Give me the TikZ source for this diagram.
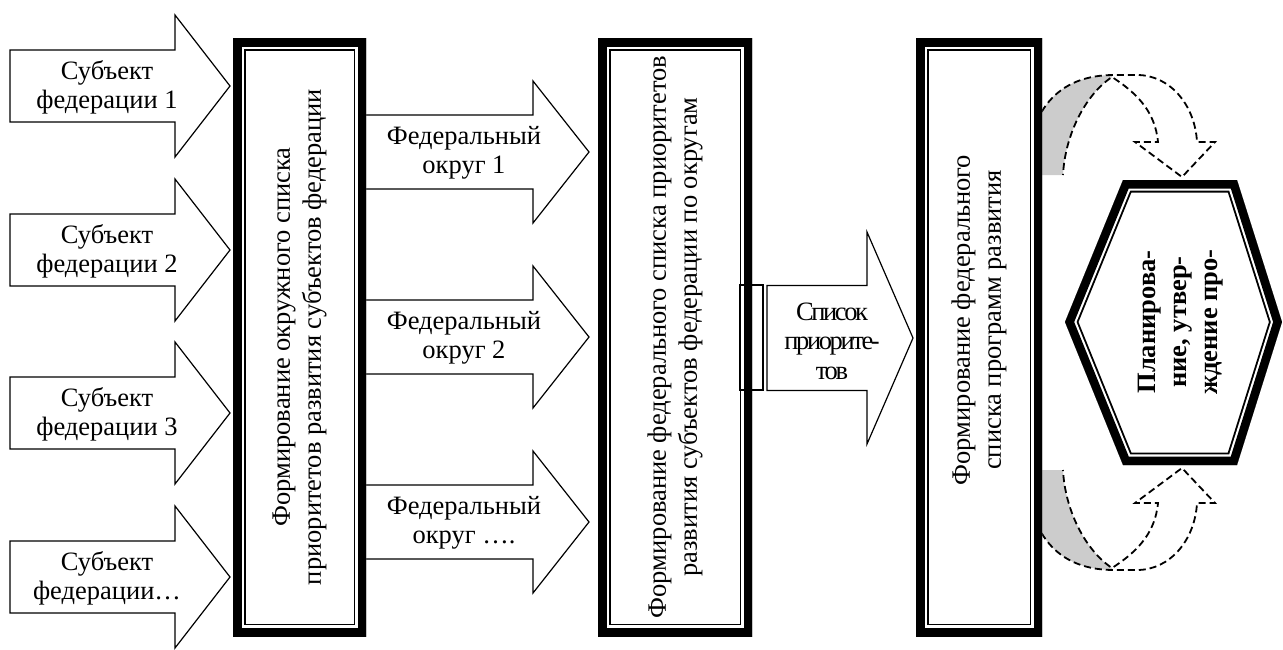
\documentclass[tikz,border=0pt]{standalone}
\usepackage{fontspec}
\setmainfont{Liberation Serif}
\newfontfamily\tightfont[LetterSpace=-9]{Liberation Serif}
\usetikzlibrary{calc}

% outline of the hexagon on the right
\newcommand{\hexpath}{(1065,322) -- (1123,180) -- (1237,180) -- (1282,322) -- (1237,465) -- (1123,465) -- cycle}
% block arrow: left x, mid y, head x, tip x, half shaft, half head
\newcommand{\blockarrow}[6]{%
  \draw[blk] (#1,#2-#5) -- (#3,#2-#5) -- (#3,#2-#6) -- (#4,#2) -- (#3,#2+#6)
    -- (#3,#2+#5) -- (#1,#2+#5) -- cycle;}

\tikzset{
  txt/.style={font=\fontsize{26.5}{29}\selectfont, align=center, inner sep=0pt},
  blk/.style={draw, line width=1.2pt, fill=white, line join=miter},
  frame/.style={fill=white, inner sep=0pt, rotate=90, align=center,
    font=\fontsize{26.5}{31}\selectfont,
    path picture={
      \draw[line width=25pt] (path picture bounding box.south west) rectangle (path picture bounding box.north east);
      \draw[white, line width=21.2pt] (path picture bounding box.south west) rectangle (path picture bounding box.north east);
      \draw[line width=17pt] (path picture bounding box.south west) rectangle (path picture bounding box.north east);}},
  bendarrow/.pic={
    \fill[black!20] (-87,100) .. controls (-84,45) and (-62,1) .. (0,0) -- (0,2)
      .. controls (-27,20) and (-47,60) .. (-49,100) -- cycle;
    \draw[line width=1.8pt, dash pattern=on 7pt off 4pt, line join=miter]
      (-87,100) .. controls (-84,45) and (-62,1) .. (0,0) -- (25,0)
      .. controls (58,0) and (83,30) .. (85,67) -- (103,67) -- (70,102) -- (23,67) -- (46,67)
      .. controls (43,35) and (23,17) .. (0,2)
      .. controls (-27,20) and (-47,60) .. (-49,100);
  }
}

\begin{document}
\begin{tikzpicture}[x=1pt,y=-1pt]
\useasboundingbox (0,0) rectangle (1283,649);

% subjects
\foreach \y in {86,250,413,577}
  \blockarrow{10}{\y}{175}{230}{36}{71};
\node[txt] (s1) at (107,87) {Субъект\\федерации 1};
\node[txt] (s2) at (107,251) {Субъект\\федерации 2};
\node[txt] (s3) at (107,414) {Субъект\\федерации 3};
\node[txt] (s4) at (107,578) {Субъект\\федерации…};

% districts
\foreach \y in {152,337,522}
  \blockarrow{360}{\y}{533}{589}{37}{71};
\node[txt] (d1) at (464,153) {Федеральный\\округ 1};
\node[txt] (d2) at (464,338) {Федеральный\\округ 2};
\node[txt] (d3) at (464,523) {Федеральный\\округ ….};

% list arrow
\blockarrow{767}{338}{867}{913}{52.5}{106}
\node[txt, font=\fontsize{26.5}{29.5}\tightfont] (lst) at (832,341) {Список\\приорите-\\тов};

% bent arrows to the hexagon
\pic at (1112,75) {bendarrow};
\pic[yscale=-1] at (1112,570) {bendarrow};

% boxes
\node[frame, minimum width=598pt, minimum height=133pt] (b1) at (299.5,337)
  {Формирование окружного списка\\приоритетов развития субъектов федерации};
\node[frame, minimum width=598pt, minimum height=154pt] (b2) at (675,337)
  {Формирование федерального списка приоритетов\\развития субъектов федерации по округам};
\node[frame, minimum width=598pt, minimum height=126pt] (b3) at (979,337) {};
\node[txt, rotate=90, font=\fontsize{26.5}{31}\selectfont] (b3t) at (979,320)
  {Формирование федерального\\списка программ развития};
\draw[line width=1.2pt] (740,285) rectangle (763,390);

% hexagon
\begin{scope}
  \clip \hexpath;
  \draw[line width=25pt] \hexpath;
  \draw[white, line width=21.2pt] \hexpath;
  \draw[line width=17pt] \hexpath;
\end{scope}
\node[txt, rotate=90, font=\fontsize{26.5}{31}\bfseries] (plan) at (1181,322)
  {Планирова-\\ние, утвер-\\ждение про-};
\end{tikzpicture}
\end{document}
